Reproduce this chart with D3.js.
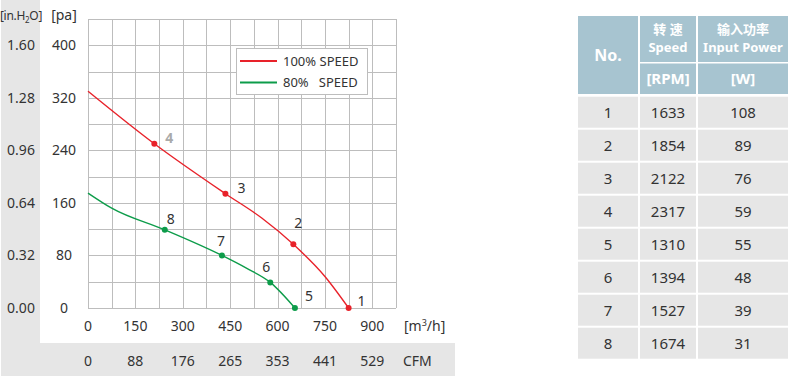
<!DOCTYPE html>
<html>
<head>
<meta charset="utf-8">
<script src="https://cdn.jsdelivr.net/npm/d3@7"></script>
<style>
  body { margin: 0; background: #fff; }
  svg { display: block; font-family: "Noto Sans", "Noto Sans CJK SC", sans-serif; }
  text { fill: #333; }
</style>
</head>
<body>
<div id="chart"></div>
<script>
// curve data [m3/h, pa]
const speed100 = [[0, 330], [210, 250], [435, 174], [550, 137], [650, 97], [750, 48], [825, 0]];
const speed80 = [[0, 175], [75, 152], [243, 119], [424, 80], [500, 61], [577, 39], [655, 0]];

// marked operating points
const pointNo = [1, 2, 3, 4, 5, 6, 7, 8];
const pointFlow = [825, 650, 435, 210, 655, 577, 424, 243];
const pointPa = [0, 97, 174, 250, 0, 39, 80, 119];

// axis labels
const flowTicks = [0, 150, 300, 450, 600, 750, 900];
const cfmTicks = ["0", "88", "176", "265", "353", "441", "529"];
const paTicks = [0, 80, 160, 240, 320, 400];
const inchTicks = ["0.00", "0.32", "0.64", "0.96", "1.28", "1.60"];

// table
const tableNo = ["1", "2", "3", "4", "5", "6", "7", "8"];
const tableRpm = ["1633", "1854", "2122", "2317", "1310", "1394", "1527", "1674"];
const tableWatt = ["108", "89", "76", "59", "55", "48", "39", "31"];

var width = 789,
    height = 377;

const RED = "#e8222a", GREEN = "#0d9c4a", GRID = "#bdbdbd", PANEL = "#e6e6e6", HEAD = "#a7c4d0";

var svg = d3.select("#chart").append("svg")
  .attr("width", width)
  .attr("height", height);

const x = d3.scaleLinear().domain([0, 975]).range([88, 396]);
const y = d3.scaleLinear().domain([0, 440]).range([308, 19]);

// grey panels
svg.append("rect").attr("x", 1).attr("y", 0).attr("width", 39).attr("height", 376).attr("fill", PANEL);
svg.append("rect").attr("x", 1).attr("y", 343).attr("width", 454).attr("height", 33).attr("fill", PANEL);

// grid
var grid = svg.append("g").attr("stroke", GRID).attr("stroke-width", 1).attr("shape-rendering", "crispEdges");
grid.selectAll("line.v")
  .data(d3.range(0, 976, 75))
  .join("line")
    .attr("class", "v")
    .attr("x1", d => Math.round(x(d)) + 0.5).attr("x2", d => Math.round(x(d)) + 0.5)
    .attr("y1", y(0)).attr("y2", y(440));
grid.selectAll("line.h")
  .data(d3.range(0, 441, 40))
  .join("line")
    .attr("class", "h")
    .attr("y1", d => Math.round(y(d)) + 0.5).attr("y2", d => Math.round(y(d)) + 0.5)
    .attr("x1", x(0)).attr("x2", x(975));

// axis labels
svg.append("text").attr("x", 21).attr("y", 20).attr("text-anchor", "middle").style("font-size", "12px")
  .style("letter-spacing", "-0.3px")
  .html('[in.H<tspan dy="3" font-size="8">2</tspan><tspan dy="-3">O]</tspan>');
svg.append("text").attr("x", 64).attr("y", 20).attr("text-anchor", "middle").style("font-size", "14px").text("[pa]");

svg.selectAll("text.pa")
  .data(paTicks)
  .join("text")
    .attr("class", "pa")
    .attr("x", 64).attr("y", d => y(d) + 5)
    .attr("text-anchor", "middle").style("font-size", "14px")
    .text(d => d);
svg.selectAll("text.inch")
  .data(inchTicks)
  .join("text")
    .attr("class", "inch")
    .attr("x", 21).attr("y", (d, i) => y(paTicks[i]) + 5)
    .attr("text-anchor", "middle").style("font-size", "14px")
    .text(d => d);

svg.selectAll("text.flow")
  .data(flowTicks)
  .join("text")
    .attr("class", "flow")
    .attr("x", d => x(d)).attr("y", 331)
    .attr("text-anchor", "middle").style("font-size", "14px")
    .text(d => d);
svg.append("text").attr("x", 404).attr("y", 331).style("font-size", "14px")
  .html('[m<tspan dy="-5" font-size="9">3</tspan><tspan dy="5">/h]</tspan>');

svg.selectAll("text.cfm")
  .data(cfmTicks)
  .join("text")
    .attr("class", "cfm")
    .attr("x", (d, i) => x(flowTicks[i])).attr("y", 366)
    .attr("text-anchor", "middle").style("font-size", "14px")
    .text(d => d);
svg.append("text").attr("x", 403).attr("y", 366).style("font-size", "14px").text("CFM");

// curves
const line = d3.line()
  .x(d => x(d[0]))
  .y(d => y(d[1]))
  .curve(d3.curveMonotoneX);

svg.append("path").datum(speed100).attr("d", line).attr("fill", "none").attr("stroke", RED).attr("stroke-width", 1.4);
svg.append("path").datum(speed80).attr("d", line).attr("fill", "none").attr("stroke", GREEN).attr("stroke-width", 1.4);

// points + numbers
const labelShift = {1: [13, -7], 2: [5, -21], 3: [16, -6], 4: [15, -6], 5: [14, -12], 6: [-4, -15], 7: [-1, -14], 8: [6, -11]};
var pts = svg.append("g").selectAll("g")
  .data(pointNo)
  .join("g");
pts.append("circle")
  .attr("cx", (d, i) => x(pointFlow[i]))
  .attr("cy", (d, i) => y(pointPa[i]))
  .attr("r", 3)
  .attr("fill", d => d <= 4 ? RED : GREEN);
pts.append("text")
  .attr("x", (d, i) => x(pointFlow[i]) + labelShift[d][0])
  .attr("y", (d, i) => y(pointPa[i]) + labelShift[d][1] + 5)
  .attr("text-anchor", "middle")
  .style("font-size", "14px")
  .style("font-weight", d => d == 4 ? "bold" : "normal")
  .style("fill", d => d == 4 ? "#aaa" : "#333")
  .text(d => d);

// legend
var legend = svg.append("g");
legend.append("rect").attr("x", 236.5).attr("y", 48.5).attr("width", 131).attr("height", 46)
  .attr("fill", "#fff").attr("stroke", GRID);
[["100% SPEED", RED], ["80%   SPEED", GREEN]].forEach((d, i) => {
  legend.append("line").attr("x1", 240).attr("x2", 277)
    .attr("y1", 61 + i * 21.5).attr("y2", 61 + i * 21.5)
    .attr("stroke", d[1]).attr("stroke-width", 2);
  legend.append("text").attr("x", 283).attr("y", 65.5 + i * 21.5)
    .style("font-size", "13px").style("white-space", "pre").text(d[0]);
});

// table
var colX = [578, 640, 698], colW = [60, 56, 90];
var tbl = svg.append("g");
tbl.append("rect").attr("x", colX[0]).attr("y", 16).attr("width", colW[0]).attr("height", 78).attr("fill", HEAD);
[1, 2].forEach(c => {
  tbl.append("rect").attr("x", colX[c]).attr("y", 16).attr("width", colW[c]).attr("height", 46).attr("fill", HEAD);
  tbl.append("rect").attr("x", colX[c]).attr("y", 63.5).attr("width", colW[c]).attr("height", 30.5).attr("fill", HEAD);
});
function headText(t, cx, cy, size) {
  tbl.append("text").attr("x", cx).attr("y", cy).attr("text-anchor", "middle")
    .style("font-size", size + "px").style("font-weight", "bold").style("fill", "#fff")
    .style("white-space", "pre").text(t);
}
headText("No.", colX[0] + colW[0] / 2, 61, 16);
headText("转 速", colX[1] + colW[1] / 2, 34, 13);
headText("Speed", colX[1] + colW[1] / 2, 52, 13);
headText("输入功率", colX[2] + colW[2] / 2, 34, 13);
headText("Input Power", colX[2] + colW[2] / 2, 52, 13);
headText("[RPM]", colX[1] + colW[1] / 2, 84, 15);
headText("[W]", colX[2] + colW[2] / 2, 84, 15);

var rows = tbl.selectAll("g.row")
  .data(tableNo)
  .join("g")
    .attr("class", "row")
    .attr("transform", (d, i) => "translate(0," + (96.7 + i * 33) + ")");
[tableNo, tableRpm, tableWatt].forEach((col, c) => {
  rows.append("rect").attr("x", colX[c]).attr("y", 0).attr("width", colW[c]).attr("height", 31).attr("fill", PANEL);
  rows.append("text")
    .attr("x", colX[c] + colW[c] / 2).attr("y", 21)
    .attr("text-anchor", "middle").style("font-size", "15px")
    .text((d, i) => col[i]);
});
</script>
</body>
</html>
